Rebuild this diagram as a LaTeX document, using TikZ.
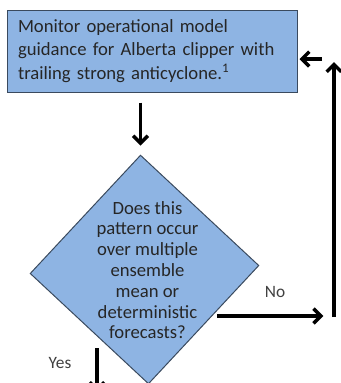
\documentclass[tikz,border=0pt]{standalone}
\usepackage{fontspec}
\setmainfont{Carlito}
\usetikzlibrary{arrows.meta, shapes.geometric}
\definecolor{boxfill}{HTML}{8EB4E3}
\definecolor{boxline}{HTML}{3A4A5E}
\definecolor{boxtext}{HTML}{262626}
\definecolor{labeltext}{HTML}{404040}

\begin{document}
\begin{tikzpicture}[x=0.75pt, y=-0.75pt, >={Straight Barb[length=5.5pt, width=11pt]},
  flow/.style={->, line width=2.6pt},
  stepbox/.style={draw=boxline, fill=boxfill, line width=0.75pt, minimum width=217.5pt, minimum height=61.5pt,
    inner xsep=8.25pt, text width=201pt, align=left, text=boxtext, font=\fontsize{14}{17.5}\selectfont},
  decision/.style={diamond, draw=boxline, fill=boxfill, line width=0.75pt, aspect=1,
    minimum width=171.75pt, minimum height=171.75pt, inner sep=0pt},
  qtext/.style={align=center, text=boxtext, font=\fontsize{14}{15.6}\selectfont},
  branch/.style={text=labeltext, font=\fontsize{13}{15.6}\selectfont}]

\clip (0,0) rectangle (341,383);

% Monitoring step
\node[stepbox] (monitor) at (152,51) {Monitor operational model\\guidance for Alberta clipper with\\trailing strong anticyclone.\textsuperscript{1}};

% Decision
\node[decision, rotate=2] (query) at (144.5,269.5) {};
\node[qtext] (querytext) at (147.5,270) {Does this\\pattern occur\\over multiple\\ensemble\\mean or\\deterministic\\forecasts?};

% Branch labels
\node[branch] (nolabel) at (275,292) {No};
\node[branch] (yeslabel) at (60,363) {Yes};

% Loop points
\coordinate (nostart) at (217,316);
\coordinate (loopbot) at (334,317);
\coordinate (looptop) at (334,62);
\coordinate (loopin) at (322,59);
\coordinate (yesstart) at (97,348);
\coordinate (yesend) at (97,392);

% Arrows
\draw[flow, shorten <=7.5pt, shorten >=6.75pt] (monitor.south -| query.north) -- (query.north);
\draw[flow, shorten >=8pt] (nostart) -- (nostart -| loopbot);
\draw[flow] (loopbot) -- (looptop);
\draw[flow, shorten >=1.5pt] (loopin) -- (loopin -| monitor.east);
\draw[flow] (yesstart) -- (yesend);

\end{tikzpicture}
\end{document}
